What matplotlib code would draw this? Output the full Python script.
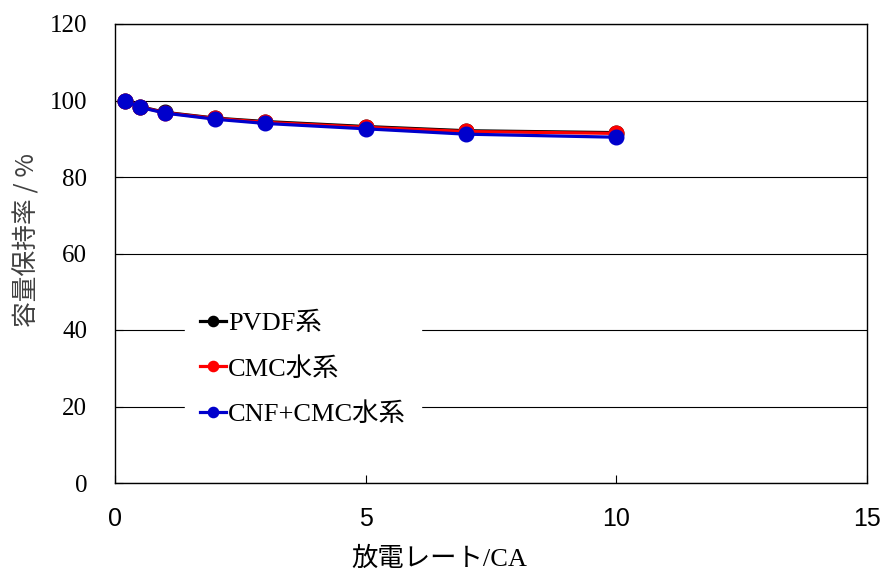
import matplotlib
matplotlib.use("Agg")
import matplotlib.pyplot as plt

# Discharge rate (CA) and capacity retention (%) for the three binder systems
rates = [0.2, 0.5, 1, 2, 3, 5, 7, 10]
pvdf = [100.0, 98.4, 96.9, 95.4, 94.5, 93.2, 92.1, 91.6]
cmc = [100.0, 98.3, 96.8, 95.3, 94.3, 93.0, 91.9, 91.4]
cnf_cmc = [100.0, 98.2, 96.7, 95.1, 94.0, 92.6, 91.2, 90.4]

series_labels = ["PVDF系", "CMC水系", "CNF+CMC水系"]
series_colors = ["#000000", "#ff0000", "#0000cc"]

x_ticks = [0, 5, 10, 15]
y_ticks = [0, 20, 40, 60, 80, 100, 120]

serif = ["Liberation Serif", "Noto Sans CJK JP"]
plt.rcParams["font.family"] = serif

fig = plt.figure(figsize=(8.83, 5.72), dpi=100)
ax = fig.add_axes([115 / 883, 1 - 483 / 572, 752 / 883, 459 / 572])

for vals, lab, col in zip([pvdf, cmc, cnf_cmc], series_labels, series_colors):
    ax.plot(rates, vals, color=col, lw=2.3, marker="o", ms=10.5,
            markeredgecolor=col, label=lab, zorder=3)

ax.set_xlim(0, 15)
ax.set_ylim(0, 120)
ax.set_xticks(x_ticks)
ax.set_yticks(y_ticks)

ax.yaxis.grid(True, color="#000000", lw=0.8)
ax.set_axisbelow(True)
for s in ax.spines.values():
    s.set_linewidth(1.0)
    s.set_color("#000000")

ax.tick_params(axis="both", direction="in", length=6, width=0.8)
ax.tick_params(axis="y", labelsize=18, pad=20)
ax.tick_params(axis="x", labelsize=18, pad=17)
for t in ax.get_xticklabels():
    t.set_fontfamily(["Liberation Sans Narrow", "Liberation Sans"])
for t in ax.get_yticklabels():
    t.set_fontfamily(serif)

ax.set_xlabel("放電レート/CA", fontsize=19, family=serif)
ax.xaxis.set_label_coords(0.431, -0.139)
ax.set_ylabel("容量保持率 / %", fontsize=18.5, color="#404040",
              family=["Noto Sans CJK JP", "DejaVu Sans"])
ax.yaxis.set_label_coords(-0.099, 0.529)

leg = ax.legend(loc="upper left", bbox_to_anchor=(0.093, 0.406), frameon=True,
                fontsize=19, handlelength=1.0, handletextpad=0.06,
                labelspacing=0.82, borderpad=0.57, borderaxespad=0.0,
                markerscale=0.7)
leg.get_frame().set_facecolor("white")
leg.get_frame().set_edgecolor("white")
leg.get_frame().set_alpha(1.0)
leg.get_frame().set_boxstyle("square", pad=0.0)
leg.set_zorder(5)

fig.savefig("out.png", dpi=100, facecolor="white")
